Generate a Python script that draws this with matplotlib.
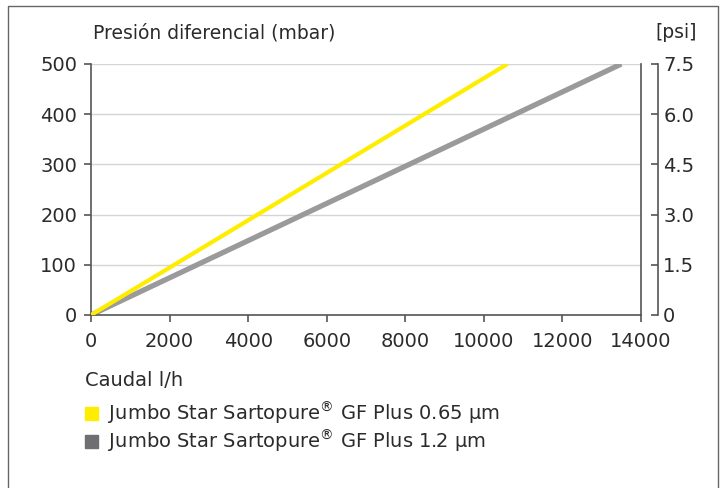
import matplotlib
matplotlib.use('Agg')
import matplotlib.pyplot as plt
from matplotlib.patches import Rectangle
from matplotlib.lines import Line2D

# flow (l/h) vs differential pressure (mbar)
flow_065 = [0, 10600]
dp_065 = [0, 500]
flow_12 = [0, 13500]
dp_12 = [0, 500]

labels = ['Jumbo Star Sartopure$^{\\circledR}$ GF Plus 0.65 µm',
          'Jumbo Star Sartopure$^{\\circledR}$ GF Plus 1.2 µm']
line_colors = ['#ffed00', '#9a9a9c']
legend_colors = ['#ffed00', '#6e6e73']

x_ticks = [0, 2000, 4000, 6000, 8000, 10000, 12000, 14000]
y_ticks = [0, 100, 200, 300, 400, 500]
psi_ticks = [0, 1.5, 3.0, 4.5, 6.0, 7.5]

plt.rcParams['font.family'] = ['DejaVu Sans']
txt = '#2b2b2b'
W, H = 726, 488

fig = plt.figure(figsize=(7.26, 4.88), dpi=100)
ax = fig.add_axes([91 / W, 1 - 315 / H, 550 / W, 251 / H])

ax.plot(flow_065, dp_065, color=line_colors[0], lw=3, solid_capstyle='butt', zorder=3)
ax.plot(flow_12, dp_12, color=line_colors[1], lw=3.8, solid_capstyle='butt', zorder=2)

ax.set_xlim(0, 14000)
ax.set_ylim(0, 500)
ax.set_xticks(x_ticks)
ax.set_yticks(y_ticks)
ax.grid(axis='y', color='#d5d5d5', lw=1)
ax.set_axisbelow(True)
ax.spines['top'].set_visible(False)
for s in ['left', 'bottom', 'right']:
    ax.spines[s].set_color('#555555')
    ax.spines[s].set_linewidth(1.2)
ax.tick_params(colors='#555555', labelcolor=txt, labelsize=14, length=5, width=1.2)
ax.tick_params(axis='x', pad=7)
ax.tick_params(axis='y', pad=5)

ax2 = ax.twinx()
ax2.set_ylim(0, 7.5)
ax2.set_yticks(psi_ticks)
ax2.set_yticklabels(['0', '1.5', '3.0', '4.5', '6.0', '7.5'])
for s in ['left', 'bottom', 'top']:
    ax2.spines[s].set_visible(False)
ax2.spines['right'].set_position(('outward', 12))
ax2.spines['right'].set_color('#555555')
ax2.spines['right'].set_linewidth(1.2)
ax2.tick_params(axis='y', direction='in', colors='#555555', labelcolor=txt,
                labelsize=14, length=5, width=1.2, pad=4)

fig.text(93 / W, 1 - 33 / H, 'Presión diferencial (mbar)', fontsize=13.5, color=txt,
         va='center', ha='left')
fig.text(655 / W, 1 - 33 / H, '[psi]', fontsize=13.5, color=txt, va='center', ha='left')
fig.text(85 / W, 1 - 381 / H, 'Caudal l/h', fontsize=14, color=txt, va='center', ha='left')

for i, lab in enumerate(labels):
    yc = 413 + i * 28
    fig.patches.append(Rectangle((85 / W, 1 - (yc + 6.5) / H), 13 / W, 13 / H,
                                 transform=fig.transFigure, color=legend_colors[i]))
    fig.text(108 / W, 1 - yc / H, lab, fontsize=14, color=txt, va='center', ha='left')

# outer frame
fig.add_artist(Line2D([8 / W, 8 / W, 718 / W, 718 / W], [0, 1 - 6 / H, 1 - 6 / H, 0],
                      transform=fig.transFigure, color='#666666', lw=1))

fig.savefig('out.png', dpi=100)
